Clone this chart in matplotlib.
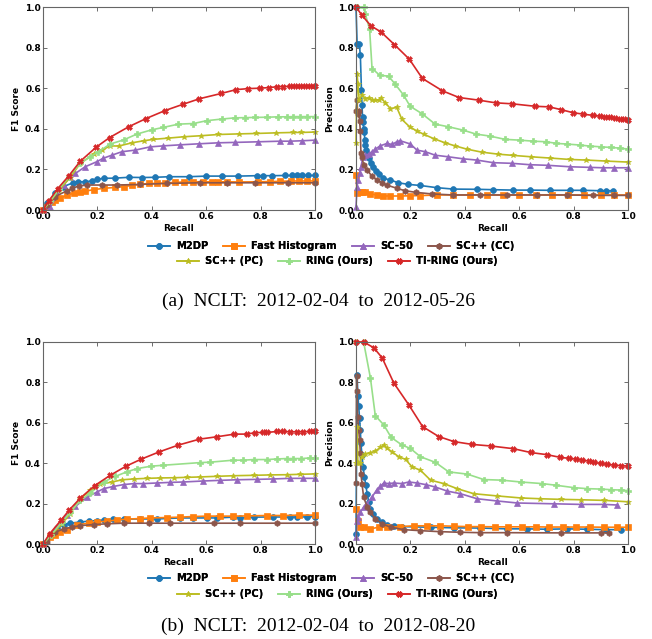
import matplotlib
matplotlib.use("Agg")
import matplotlib.pyplot as plt

# ---------------- data ----------------
names = ["M2DP", "Fast Histogram", "SC-50", "SC++ (CC)", "SC++ (PC)", "RING (Ours)", "TI-RING (Ours)"]
colors = ["#1f77b4", "#ff7f0e", "#9467bd", "#8c564b", "#bcbd22", "#98df8a", "#d62728"]
markers = ["o", "s", "^", "h", "*", "P", "X"]

# ---- (a) F1 vs recall ----
a_f1_m2dp_x = [0, 0.015, 0.045, 0.075, 0.11, 0.13, 0.155, 0.18, 0.2, 0.225, 0.265, 0.315, 0.365, 0.41, 0.465, 0.535, 0.6, 0.657, 0.718, 0.786, 0.81, 0.842, 0.89, 0.914, 0.933, 0.951, 0.976, 1.0]
a_f1_m2dp_y = [0, 0.033, 0.082, 0.115, 0.134, 0.139, 0.139, 0.143, 0.152, 0.156, 0.157, 0.161, 0.16, 0.161, 0.164, 0.164, 0.167, 0.167, 0.167, 0.169, 0.169, 0.169, 0.17, 0.17, 0.17, 0.17, 0.17, 0.17]
a_f1_fh_x = [0, 0.015, 0.033, 0.045, 0.064, 0.088, 0.113, 0.137, 0.155, 0.186, 0.223, 0.266, 0.296, 0.327, 0.357, 0.388, 0.418, 0.449, 0.486, 0.52, 0.553, 0.59, 0.62, 0.645, 0.675, 0.72, 0.79, 0.835, 0.87, 0.91, 0.94, 0.97, 1.0]
a_f1_fh_y = [0, 0.016, 0.041, 0.049, 0.057, 0.074, 0.082, 0.087, 0.093, 0.1, 0.107, 0.111, 0.115, 0.121, 0.126, 0.131, 0.131, 0.133, 0.136, 0.138, 0.139, 0.139, 0.139, 0.139, 0.139, 0.138, 0.139, 0.14, 0.141, 0.143, 0.143, 0.143, 0.143]
a_f1_sc50_x = [0, 0.027, 0.076, 0.1, 0.119, 0.155, 0.198, 0.22, 0.253, 0.29, 0.339, 0.394, 0.443, 0.504, 0.572, 0.645, 0.706, 0.792, 0.872, 0.908, 0.951, 1.0]
a_f1_sc50_y = [0, 0.016, 0.123, 0.164, 0.18, 0.213, 0.238, 0.254, 0.27, 0.287, 0.295, 0.311, 0.316, 0.321, 0.326, 0.331, 0.333, 0.336, 0.339, 0.339, 0.341, 0.344]
a_f1_sccc_x = [0, 0.015, 0.045, 0.088, 0.107, 0.131, 0.162, 0.217, 0.272, 0.357, 0.455, 0.578, 0.676, 0.78, 0.902, 1.0]
a_f1_sccc_y = [0, 0.025, 0.066, 0.095, 0.107, 0.118, 0.123, 0.123, 0.123, 0.126, 0.131, 0.134, 0.134, 0.134, 0.134, 0.134]
a_f1_scpc_x = [0, 0.025, 0.06, 0.1, 0.137, 0.186, 0.217, 0.247, 0.278, 0.327, 0.37, 0.406, 0.459, 0.52, 0.582, 0.645, 0.722, 0.783, 0.857, 0.918, 0.95, 1.0]
a_f1_scpc_y = [0, 0.04, 0.1, 0.16, 0.23, 0.275, 0.295, 0.316, 0.315, 0.331, 0.341, 0.348, 0.354, 0.361, 0.366, 0.372, 0.375, 0.377, 0.38, 0.382, 0.382, 0.384]
a_f1_ring_x = [0, 0.025, 0.06, 0.094, 0.137, 0.174, 0.204, 0.247, 0.296, 0.345, 0.4, 0.443, 0.498, 0.553, 0.602, 0.657, 0.706, 0.743, 0.78, 0.823, 0.865, 0.896, 0.92, 0.945, 0.97, 1.0]
a_f1_ring_y = [0, 0.042, 0.105, 0.164, 0.23, 0.262, 0.287, 0.325, 0.345, 0.374, 0.395, 0.407, 0.423, 0.426, 0.44, 0.448, 0.454, 0.455, 0.456, 0.457, 0.459, 0.459, 0.46, 0.46, 0.46, 0.46]
a_f1_tiring_x = [0, 0.021, 0.054, 0.094, 0.137, 0.196, 0.245, 0.315, 0.378, 0.449, 0.513, 0.575, 0.655, 0.71, 0.755, 0.796, 0.832, 0.859, 0.884, 0.908, 0.927, 0.945, 0.963, 0.982, 1.0]
a_f1_tiring_y = [0, 0.044, 0.105, 0.167, 0.24, 0.31, 0.357, 0.41, 0.45, 0.49, 0.52, 0.548, 0.574, 0.593, 0.598, 0.6, 0.603, 0.607, 0.608, 0.609, 0.609, 0.61, 0.61, 0.61, 0.61]

# ---- (a) precision vs recall ----
a_pr_m2dp_x = [0.0, 0.004, 0.012, 0.016, 0.02, 0.022, 0.024, 0.026, 0.028, 0.031, 0.032, 0.034, 0.038, 0.043, 0.049, 0.055, 0.064, 0.072, 0.083, 0.101, 0.126, 0.156, 0.193, 0.235, 0.297, 0.358, 0.444, 0.505, 0.578, 0.64, 0.713, 0.786, 0.835, 0.896, 0.92, 0.945]
a_pr_m2dp_y = [1.0, 0.82, 0.82, 0.762, 0.59, 0.516, 0.459, 0.434, 0.4, 0.385, 0.344, 0.32, 0.295, 0.275, 0.254, 0.23, 0.213, 0.193, 0.177, 0.156, 0.148, 0.134, 0.126, 0.121, 0.11, 0.103, 0.102, 0.1, 0.098, 0.098, 0.097, 0.097, 0.097, 0.095, 0.095, 0.095]
a_pr_fh_x = [0.0, 0.004, 0.01, 0.022, 0.034, 0.052, 0.077, 0.101, 0.126, 0.163, 0.199, 0.236, 0.297, 0.358, 0.42, 0.48, 0.54, 0.6, 0.66, 0.72, 0.78, 0.84, 0.9, 0.95, 1.0]
a_pr_fh_y = [0.17, 0.082, 0.09, 0.09, 0.087, 0.079, 0.074, 0.069, 0.069, 0.069, 0.07, 0.071, 0.074, 0.074, 0.074, 0.074, 0.074, 0.074, 0.074, 0.074, 0.074, 0.074, 0.074, 0.074, 0.074]
a_pr_sc50_x = [0.0, 0.004, 0.007, 0.013, 0.018, 0.026, 0.034, 0.046, 0.059, 0.071, 0.089, 0.114, 0.132, 0.15, 0.163, 0.2, 0.224, 0.255, 0.291, 0.34, 0.395, 0.444, 0.505, 0.572, 0.64, 0.707, 0.786, 0.859, 0.908, 0.95, 1.0]
a_pr_sc50_y = [0.016, 0.115, 0.148, 0.18, 0.213, 0.262, 0.27, 0.275, 0.287, 0.3, 0.316, 0.328, 0.323, 0.336, 0.341, 0.325, 0.295, 0.287, 0.27, 0.262, 0.252, 0.246, 0.233, 0.23, 0.223, 0.22, 0.213, 0.21, 0.208, 0.208, 0.208]
a_pr_sccc_x = [0.0, 0.004, 0.006, 0.01, 0.013, 0.016, 0.018, 0.022, 0.028, 0.04, 0.059, 0.077, 0.095, 0.113, 0.15, 0.18, 0.22, 0.279, 0.358, 0.456, 0.555, 0.664, 0.775, 0.872, 0.95, 1.0]
a_pr_sccc_y = [0.49, 0.54, 0.475, 0.49, 0.44, 0.39, 0.28, 0.262, 0.221, 0.197, 0.167, 0.148, 0.134, 0.123, 0.107, 0.095, 0.087, 0.079, 0.074, 0.074, 0.074, 0.074, 0.074, 0.072, 0.072, 0.072]
a_pr_scpc_x = [0.0, 0.004, 0.007, 0.012, 0.022, 0.034, 0.046, 0.059, 0.071, 0.083, 0.092, 0.108, 0.126, 0.15, 0.169, 0.197, 0.224, 0.251, 0.285, 0.327, 0.364, 0.407, 0.462, 0.523, 0.578, 0.645, 0.712, 0.786, 0.847, 0.92, 1.0]
a_pr_scpc_y = [0.33, 0.67, 0.62, 0.54, 0.566, 0.549, 0.554, 0.541, 0.541, 0.541, 0.552, 0.528, 0.5, 0.505, 0.446, 0.41, 0.389, 0.372, 0.352, 0.331, 0.316, 0.3, 0.285, 0.275, 0.269, 0.262, 0.256, 0.249, 0.246, 0.241, 0.236]
a_pr_ring_x = [0.004, 0.028, 0.034, 0.05, 0.059, 0.087, 0.12, 0.144, 0.175, 0.199, 0.242, 0.291, 0.34, 0.395, 0.441, 0.493, 0.548, 0.603, 0.652, 0.7, 0.737, 0.774, 0.823, 0.859, 0.902, 0.939, 0.969, 1.0]
a_pr_ring_y = [1.0, 1.0, 0.967, 0.89, 0.697, 0.664, 0.659, 0.62, 0.566, 0.511, 0.475, 0.423, 0.41, 0.393, 0.374, 0.364, 0.348, 0.344, 0.339, 0.336, 0.328, 0.325, 0.32, 0.315, 0.311, 0.308, 0.305, 0.3]
a_pr_tiring_x = [0.0, 0.022, 0.055, 0.092, 0.141, 0.196, 0.244, 0.318, 0.379, 0.452, 0.513, 0.575, 0.658, 0.71, 0.752, 0.796, 0.835, 0.872, 0.896, 0.914, 0.933, 0.951, 0.969, 0.984, 1.0]
a_pr_tiring_y = [1.0, 0.959, 0.907, 0.877, 0.815, 0.743, 0.648, 0.587, 0.554, 0.541, 0.528, 0.523, 0.511, 0.508, 0.495, 0.48, 0.472, 0.466, 0.462, 0.459, 0.456, 0.452, 0.448, 0.446, 0.443]

# ---- (b) F1 vs recall ----
b_f1_m2dp_x = [0, 0.027, 0.051, 0.076, 0.1, 0.137, 0.168, 0.198, 0.223, 0.259, 0.296, 0.357, 0.418, 0.504, 0.553, 0.602, 0.639, 0.7, 0.725, 0.774, 0.847, 0.908, 0.933, 0.97, 1.0]
b_f1_m2dp_y = [0, 0.046, 0.08, 0.095, 0.103, 0.109, 0.113, 0.116, 0.118, 0.123, 0.123, 0.124, 0.124, 0.129, 0.129, 0.129, 0.129, 0.133, 0.129, 0.133, 0.134, 0.133, 0.134, 0.134, 0.136]
b_f1_fh_x = [0, 0.027, 0.045, 0.064, 0.088, 0.125, 0.168, 0.198, 0.235, 0.272, 0.308, 0.357, 0.394, 0.455, 0.504, 0.553, 0.602, 0.65, 0.7, 0.749, 0.823, 0.884, 0.94, 1.0]
b_f1_fh_y = [0, 0.033, 0.046, 0.058, 0.07, 0.095, 0.103, 0.109, 0.113, 0.119, 0.123, 0.126, 0.129, 0.131, 0.133, 0.136, 0.138, 0.138, 0.138, 0.139, 0.141, 0.141, 0.143, 0.143]
b_f1_sc50_x = [0, 0.088, 0.119, 0.162, 0.198, 0.223, 0.259, 0.296, 0.333, 0.369, 0.418, 0.467, 0.516, 0.59, 0.65, 0.712, 0.786, 0.847, 0.908, 0.957, 1.0]
b_f1_sc50_y = [0, 0.144, 0.186, 0.232, 0.257, 0.274, 0.285, 0.294, 0.299, 0.299, 0.302, 0.305, 0.307, 0.312, 0.315, 0.318, 0.32, 0.322, 0.325, 0.325, 0.325]
b_f1_sccc_x = [0, 0.015, 0.045, 0.076, 0.107, 0.137, 0.186, 0.235, 0.296, 0.388, 0.467, 0.627, 0.725, 0.859, 1.0]
b_f1_sccc_y = [0, 0.012, 0.058, 0.075, 0.083, 0.091, 0.096, 0.1, 0.103, 0.103, 0.103, 0.103, 0.103, 0.103, 0.103]
b_f1_scpc_x = [0, 0.03, 0.07, 0.1, 0.137, 0.174, 0.21, 0.253, 0.292, 0.333, 0.382, 0.431, 0.48, 0.529, 0.578, 0.639, 0.7, 0.774, 0.835, 0.896, 0.945, 1.0]
b_f1_scpc_y = [0, 0.045, 0.1, 0.15, 0.224, 0.265, 0.295, 0.307, 0.318, 0.322, 0.325, 0.327, 0.328, 0.33, 0.332, 0.335, 0.338, 0.34, 0.342, 0.343, 0.345, 0.347]
b_f1_ring_x = [0, 0.03, 0.07, 0.1, 0.137, 0.174, 0.223, 0.266, 0.308, 0.345, 0.396, 0.443, 0.578, 0.614, 0.7, 0.737, 0.774, 0.823, 0.859, 0.896, 0.92, 0.95, 0.982, 1.0]
b_f1_ring_y = [0, 0.045, 0.11, 0.157, 0.216, 0.252, 0.307, 0.335, 0.357, 0.373, 0.385, 0.39, 0.403, 0.405, 0.415, 0.415, 0.418, 0.418, 0.421, 0.423, 0.423, 0.423, 0.426, 0.426]
b_f1_tiring_x = [0, 0.024, 0.067, 0.097, 0.137, 0.19, 0.247, 0.305, 0.361, 0.427, 0.496, 0.575, 0.64, 0.704, 0.749, 0.78, 0.81, 0.823, 0.859, 0.884, 0.908, 0.933, 0.957, 0.982, 1.0]
b_f1_tiring_y = [0, 0.05, 0.119, 0.169, 0.227, 0.289, 0.34, 0.385, 0.42, 0.456, 0.489, 0.519, 0.531, 0.544, 0.544, 0.551, 0.552, 0.552, 0.557, 0.557, 0.555, 0.555, 0.555, 0.557, 0.557]

# ---- (b) precision vs recall ----
b_pr_m2dp_x = [0.0, 0.004, 0.007, 0.01, 0.013, 0.016, 0.018, 0.022, 0.026, 0.031, 0.036, 0.041, 0.047, 0.053, 0.062, 0.077, 0.096, 0.114, 0.138, 0.169, 0.274, 0.36, 0.457, 0.556, 0.63, 0.703, 0.777, 0.85, 0.92, 0.973]
b_pr_m2dp_y = [0.05, 0.839, 0.731, 0.681, 0.623, 0.565, 0.498, 0.44, 0.382, 0.332, 0.291, 0.249, 0.208, 0.174, 0.15, 0.125, 0.108, 0.095, 0.091, 0.086, 0.083, 0.08, 0.079, 0.075, 0.075, 0.073, 0.075, 0.073, 0.071, 0.071]
b_pr_fh_x = [0.0, 0.006, 0.013, 0.028, 0.053, 0.083, 0.114, 0.163, 0.212, 0.261, 0.31, 0.36, 0.41, 0.46, 0.51, 0.56, 0.61, 0.66, 0.71, 0.76, 0.81, 0.86, 0.91, 0.96, 1.0]
b_pr_fh_y = [0.174, 0.116, 0.083, 0.083, 0.075, 0.083, 0.083, 0.086, 0.09, 0.09, 0.09, 0.088, 0.086, 0.086, 0.085, 0.085, 0.085, 0.085, 0.084, 0.084, 0.084, 0.084, 0.083, 0.083, 0.083]
b_pr_sc50_x = [0.0, 0.004, 0.007, 0.016, 0.028, 0.04, 0.059, 0.077, 0.09, 0.102, 0.12, 0.139, 0.169, 0.194, 0.225, 0.256, 0.292, 0.335, 0.384, 0.445, 0.519, 0.593, 0.727, 0.826, 0.912, 0.961]
b_pr_sc50_y = [0.033, 0.116, 0.133, 0.158, 0.183, 0.2, 0.233, 0.269, 0.286, 0.302, 0.299, 0.302, 0.299, 0.307, 0.302, 0.294, 0.282, 0.262, 0.249, 0.224, 0.213, 0.203, 0.199, 0.196, 0.196, 0.193]
b_pr_sccc_x = [0.0, 0.002, 0.004, 0.006, 0.01, 0.013, 0.016, 0.018, 0.022, 0.028, 0.041, 0.053, 0.071, 0.096, 0.127, 0.176, 0.237, 0.31, 0.384, 0.457, 0.556, 0.752, 0.9, 0.93]
b_pr_sccc_y = [0.3, 0.83, 0.756, 0.631, 0.565, 0.515, 0.449, 0.349, 0.299, 0.233, 0.183, 0.158, 0.125, 0.1, 0.083, 0.071, 0.066, 0.061, 0.058, 0.056, 0.056, 0.055, 0.055, 0.055]
b_pr_scpc_x = [0.0, 0.004, 0.007, 0.013, 0.022, 0.034, 0.053, 0.071, 0.09, 0.102, 0.114, 0.132, 0.157, 0.182, 0.206, 0.237, 0.274, 0.323, 0.372, 0.433, 0.519, 0.605, 0.678, 0.752, 0.826, 0.912, 1.0]
b_pr_scpc_y = [0.4, 0.58, 0.4, 0.4, 0.432, 0.445, 0.452, 0.46, 0.478, 0.49, 0.473, 0.457, 0.432, 0.419, 0.382, 0.365, 0.316, 0.299, 0.274, 0.249, 0.238, 0.228, 0.224, 0.221, 0.219, 0.216, 0.209]
b_pr_ring_x = [0.0, 0.028, 0.053, 0.071, 0.102, 0.129, 0.169, 0.2, 0.237, 0.292, 0.341, 0.409, 0.47, 0.537, 0.605, 0.685, 0.734, 0.801, 0.85, 0.899, 0.936, 0.973, 1.0]
b_pr_ring_y = [1.0, 1.0, 0.822, 0.635, 0.59, 0.528, 0.49, 0.473, 0.432, 0.404, 0.357, 0.346, 0.319, 0.316, 0.307, 0.299, 0.291, 0.279, 0.274, 0.272, 0.269, 0.267, 0.264]
b_pr_tiring_x = [0.0, 0.028, 0.065, 0.096, 0.139, 0.194, 0.245, 0.304, 0.36, 0.427, 0.497, 0.578, 0.642, 0.703, 0.75, 0.783, 0.807, 0.832, 0.856, 0.875, 0.899, 0.924, 0.948, 0.973, 1.0]
b_pr_tiring_y = [1.0, 1.0, 0.972, 0.922, 0.797, 0.689, 0.581, 0.532, 0.507, 0.493, 0.485, 0.472, 0.453, 0.442, 0.429, 0.424, 0.42, 0.415, 0.41, 0.404, 0.399, 0.394, 0.39, 0.388, 0.385]

xticks = [0.0, 0.2, 0.4, 0.6, 0.8, 1.0]
yticks = [0.0, 0.2, 0.4, 0.6, 0.8, 1.0]
tick_labels = ["0.0", "0.2", "0.4", "0.6", "0.8", "1.0"]
captions = ["(a)  NCLT:  2012-02-04  to  2012-05-26", "(b)  NCLT:  2012-02-04  to  2012-08-20"]

a_f1 = [(a_f1_m2dp_x, a_f1_m2dp_y), (a_f1_fh_x, a_f1_fh_y), (a_f1_sc50_x, a_f1_sc50_y), (a_f1_sccc_x, a_f1_sccc_y),
        (a_f1_scpc_x, a_f1_scpc_y), (a_f1_ring_x, a_f1_ring_y), (a_f1_tiring_x, a_f1_tiring_y)]
a_pr = [(a_pr_m2dp_x, a_pr_m2dp_y), (a_pr_fh_x, a_pr_fh_y), (a_pr_sc50_x, a_pr_sc50_y), (a_pr_sccc_x, a_pr_sccc_y),
        (a_pr_scpc_x, a_pr_scpc_y), (a_pr_ring_x, a_pr_ring_y), (a_pr_tiring_x, a_pr_tiring_y)]
b_f1 = [(b_f1_m2dp_x, b_f1_m2dp_y), (b_f1_fh_x, b_f1_fh_y), (b_f1_sc50_x, b_f1_sc50_y), (b_f1_sccc_x, b_f1_sccc_y),
        (b_f1_scpc_x, b_f1_scpc_y), (b_f1_ring_x, b_f1_ring_y), (b_f1_tiring_x, b_f1_tiring_y)]
b_pr = [(b_pr_m2dp_x, b_pr_m2dp_y), (b_pr_fh_x, b_pr_fh_y), (b_pr_sc50_x, b_pr_sc50_y), (b_pr_sccc_x, b_pr_sccc_y),
        (b_pr_scpc_x, b_pr_scpc_y), (b_pr_ring_x, b_pr_ring_y), (b_pr_tiring_x, b_pr_tiring_y)]

# ---------------- figure ----------------
W, H = 652, 639
fig = plt.figure(figsize=(W / 100, H / 100), dpi=100)


def px_axes(l, t, r, b):
    return fig.add_axes([l / W, 1 - b / H, (r - l) / W, (b - t) / H])


def style(ax, ylabel):
    ax.set_xlim(0, 1)
    ax.set_ylim(0, 1)
    ax.set_xticks(xticks)
    ax.set_yticks(yticks)
    ax.set_xticklabels(tick_labels, fontsize=6.5, fontweight="bold")
    ax.set_yticklabels(tick_labels, fontsize=6.5, fontweight="bold")
    ax.tick_params(direction="in", length=3, width=0.6, color="#555555", top=True, right=True, pad=1.5)
    for s in ax.spines.values():
        s.set_color("#666666")
        s.set_linewidth(0.8)
    ax.set_xlabel("Recall", fontsize=6.5, fontweight="bold", labelpad=2)
    ax.set_ylabel(ylabel, fontsize=6.5, fontweight="bold", labelpad=3)


def draw(ax, series):
    handles = []
    for (x, y), nm, c, m in zip(series, names, colors, markers):
        h, = ax.plot(x, y, color=c, marker=m, markersize=4.2, linewidth=1.2, label=nm,
                     markeredgewidth=0.5, clip_on=False)
        handles.append(h)
    return handles


rows = [(a_f1, a_pr, 7, 210, 246, 261, 301), (b_f1, b_pr, 342, 544, 578, 594, 626)]
for i, (f1, pr, top, bot, ly1, ly2, cy) in enumerate(rows):
    ax1 = px_axes(43, top, 315, bot)
    ax2 = px_axes(356, top, 628, bot)
    hs = draw(ax1, f1)
    draw(ax2, pr)
    style(ax1, "F1 Score")
    style(ax2, "Precision")
    leg_kw = dict(frameon=False, loc="center", prop={"size": 7.2, "weight": "bold"},
                  handlelength=2.2, handletextpad=0.6, columnspacing=1.5, borderaxespad=0)
    l1 = fig.legend(hs[:4], names[:4], ncol=4, bbox_to_anchor=(331 / W, 1 - ly1 / H), **leg_kw)
    fig.add_artist(l1)
    l2 = fig.legend(hs[4:], names[4:], ncol=3, bbox_to_anchor=(337 / W, 1 - ly2 / H), **leg_kw)
    fig.add_artist(l2)
    fig.text(318 / W, 1 - cy / H, captions[i], ha="center", va="center",
             fontsize=14, family="Liberation Serif")

fig.savefig("out.png", dpi=100)
